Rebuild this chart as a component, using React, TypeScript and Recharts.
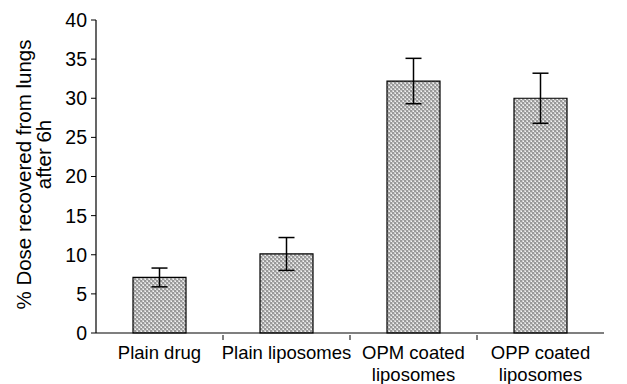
import { Bar, BarChart, ErrorBar, XAxis, YAxis } from "recharts";

const categories = ["Plain drug", "Plain liposomes", "OPM coated\nliposomes", "OPP coated\nliposomes"];
const doseRecovered = [7.1, 10.1, 32.2, 30.0];
const doseError = [1.2, 2.1, 2.9, 3.2];
const yTicks = [0, 5, 10, 15, 20, 25, 30, 35, 40];

const data = categories.map((name, i) => ({
  name,
  dose: doseRecovered[i],
  err: doseError[i],
}));

const font = "'Liberation Sans', Arial, sans-serif";

function CategoryTick(props: any) {
  const { x, y, payload, index } = props;
  const lines = String(payload.value).split("\n");
  const half = payload.offset ?? 0;
  const axisY = y - 5;
  return (
    <g>
      {index < categories.length - 1 && (
        <line x1={x + half} x2={x + half} y1={axisY} y2={axisY + 5} stroke="#000" strokeWidth={1} />
      )}
      <text x={x} y={axisY} textAnchor="middle" fontSize={18.5} fill="#000" fontFamily={font}>
        {lines.map((l, i) => (
          <tspan key={i} x={x} dy={i === 0 ? 24 : 22}>
            {l}
          </tspan>
        ))}
      </text>
    </g>
  );
}

export default function App() {
  return (
    <div style={{ position: "absolute", left: 0, top: 0, background: "#fff" }}>
      <BarChart
        width={627}
        height={384}
        data={data}
        margin={{ top: 20, right: 23, left: 0, bottom: 0 }}
        barCategoryGap={37}
      >
        <defs>
          <pattern id="hatch" width="4" height="4" patternUnits="userSpaceOnUse">
            <rect width="4" height="4" fill="#cacaca" />
            <rect x="0" y="0" width="2" height="2" fill="#999999" />
            <rect x="2" y="2" width="2" height="2" fill="#999999" />
            <rect x="1" y="3" width="1" height="1" fill="#f4f4f4" />
            <rect x="3" y="1" width="1" height="1" fill="#f4f4f4" />
          </pattern>
        </defs>
        <XAxis
          dataKey="name"
          height={51}
          interval={0}
          axisLine={{ stroke: "#000", strokeWidth: 1.2 }}
          tickLine={false}
          tickSize={5}
          tick={<CategoryTick />}
        />
        <YAxis
          width={96}
          domain={[0, 40]}
          ticks={yTicks}
          interval={0}
          axisLine={{ stroke: "#000", strokeWidth: 1.2 }}
          tickLine={{ stroke: "#000" }}
          tickSize={5}
          tickMargin={4}
          tick={{ fill: "#000", fontSize: 19.5, fontFamily: font }}
          label={(props: any) => {
            const vb = props.viewBox;
            const cy = vb.y + vb.height / 2;
            return (
              <g fontFamily={font} fontSize={20.5} fill="#000">
                <text x={0} y={0} textAnchor="middle" transform={`translate(31, ${cy - 2}) rotate(-90)`}>
                  % Dose recovered from lungs
                </text>
                <text x={0} y={0} textAnchor="middle" transform={`translate(51, ${cy - 22}) rotate(-90)`}>
                  after 6h
                </text>
              </g>
            );
          }}
        />
        <Bar dataKey="dose" fill="url(#hatch)" stroke="#000" strokeWidth={1.2} isAnimationActive={false}>
          <ErrorBar dataKey="err" width={8} stroke="#000" strokeWidth={1.5} />
        </Bar>
      </BarChart>
    </div>
  );
}
